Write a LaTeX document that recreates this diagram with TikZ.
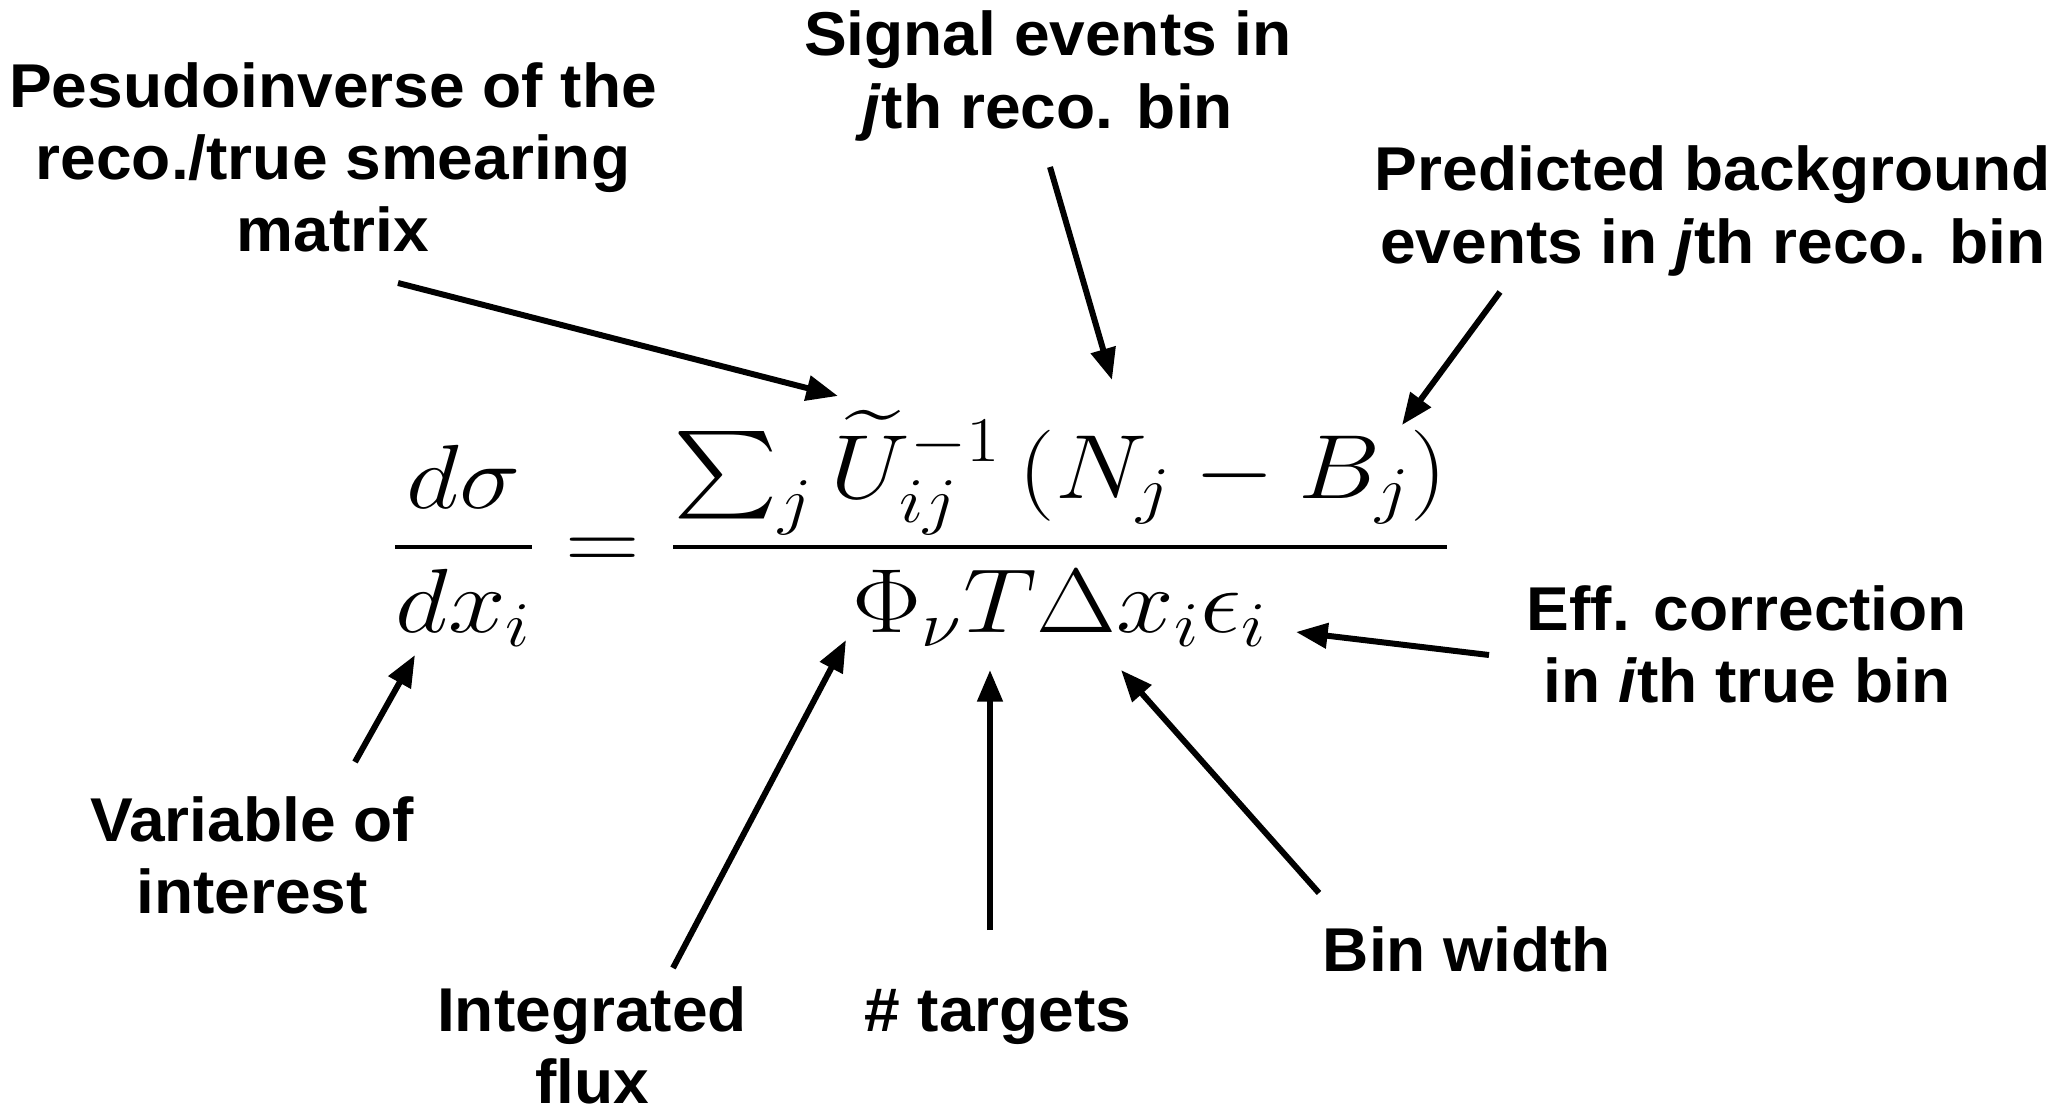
\RequirePackage{fix-cm}
\documentclass[tikz,border=0pt]{standalone}
\usepackage{amsmath}
\usepackage{graphicx}
\usepackage{fontspec}
\setmainfont{Liberation Sans}[FakeStretch=1.035]
\usepackage{tikz}
\tikzset{
    notelabel/.style={font=\bfseries\fontsize{17.6}{20.5}\selectfont, align=center, inner sep=0pt},
    notearrow/.style={line width=1.7pt, -{Triangle[length=9pt, width=7pt]}}
}
\usetikzlibrary{arrows.meta}

\begin{document}
\begin{tikzpicture}[x=0.01cm, y=-0.01cm]
    \useasboundingbox (0,0) rectangle (2060,1106);
    % formula
    \node[anchor=base west, inner sep=0pt] (eqn) at (390,570)
        {\fontsize{25.9}{30}\selectfont\scalebox{1.135}[1]{$\displaystyle \frac{d\sigma}{dx_i} = \frac{\sum_j \widetilde{U}^{-1}_{ij}\left(N_j - B_j\right)}{\Phi_\nu T\Delta x_i\epsilon_i}$}};
    % labels
    \node[notelabel] (pinv) at (333,157) {Pesudoinverse of the\\reco./true smearing\\matrix};
    \node[notelabel] (sig) at (1048,76) {Signal events in\\\textit{j}th reco. bin};
    \node[notelabel] (bkg) at (1713,211) {Predicted background\\events in \textit{j}th reco. bin};
    \node[notelabel] (eff) at (1747,644) {Eff. correction\\in \textit{i}th true bin};
    \node[notelabel] (binw) at (1467,949) {Bin width};
    \node[notelabel] (ntar) at (998,1017) {\# targets};
    \node[notelabel] (flux) at (592,1045) {Integrated\\flux};
    \node[notelabel] (var) at (252,855) {Variable of\\interest};
    % arrow ends
    \coordinate (pinv-t) at (398,283);  \coordinate (pinv-h) at (838,396);
    \coordinate (sig-t) at (1050,167);  \coordinate (sig-h) at (1112,380);
    \coordinate (bkg-t) at (1500,292);  \coordinate (bkg-h) at (1402,425);
    \coordinate (eff-t) at (1489,655);  \coordinate (eff-h) at (1296,632);
    \coordinate (binw-t) at (1319,893); \coordinate (binw-h) at (1121,670);
    \coordinate (ntar-t) at (990,930);  \coordinate (ntar-h) at (990,670);
    \coordinate (flux-t) at (673,968);  \coordinate (flux-h) at (846,640);
    \coordinate (var-t) at (355,762);   \coordinate (var-h) at (415,655);
    \foreach \n in {pinv,sig,bkg,eff,binw,ntar,flux,var}
        \draw[notearrow] (\n-t) -- (\n-h);
\end{tikzpicture}
\end{document}
